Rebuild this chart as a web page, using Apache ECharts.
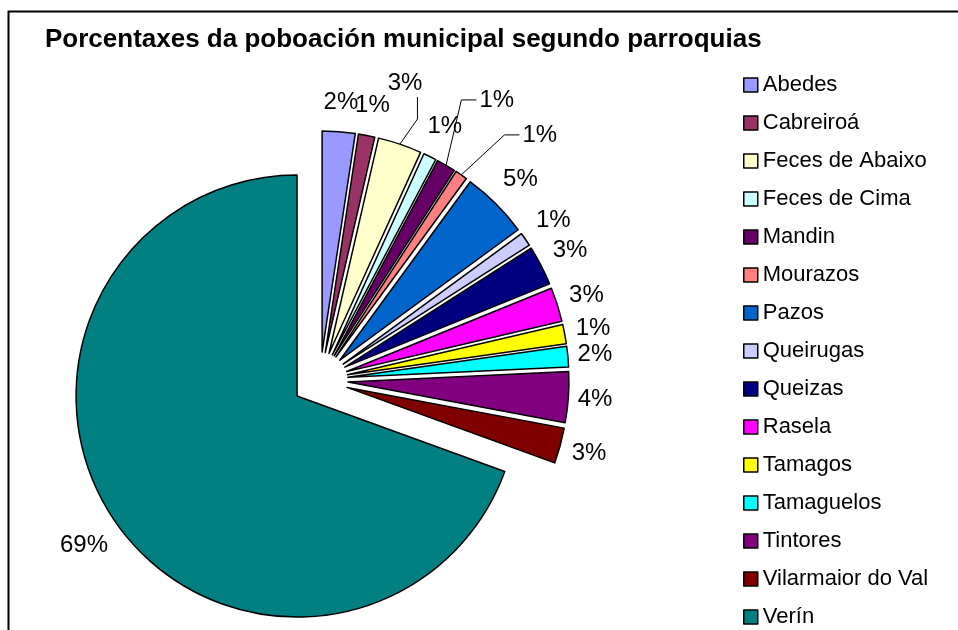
<!DOCTYPE html>
<html>
<head>
<meta charset="utf-8">
<script src="https://cdn.jsdelivr.net/npm/echarts@6/dist/echarts.min.js"></script>
<style>
html, body { margin: 0; padding: 0; background: #fff; }
#chart { width: 958px; height: 630px; }
</style>
</head>
<body>
<div id="chart"></div>
<script>
const parishes = ['Abedes', 'Cabreiroá', 'Feces de Abaixo', 'Feces de Cima', 'Mandin', 'Mourazos', 'Pazos',
	'Queirugas', 'Queizas', 'Rasela', 'Tamagos', 'Tamaguelos', 'Tintores', 'Vilarmaior do Val', 'Verín'];
// share of the municipal population, %
const shares = [2.4, 1.2, 3.2, 0.95, 1.4, 0.9, 4.9, 1.0, 2.9, 2.5, 1.4, 1.5, 3.7, 2.6, 69.45];
const colours = ['#9999ff', '#993366', '#ffffcc', '#ccffff', '#660066', '#ff8080', '#0066cc',
	'#ccccff', '#000080', '#ff00ff', '#ffff00', '#00ffff', '#800080', '#800000', '#008080'];

// labels pushed out with a leader line: [extra distance, extra angle (deg)]
const leaders = { 'Feces de Abaixo': [28, -3], 'Mandin': [48, 2], 'Mourazos': [46, 8] };

const CX = 320, CY = 380, R = 221, EXPLODE = 28;
const FONT = 'Liberation Sans, Arial, sans-serif';

// mid angle of every slice (clockwise from 12 o'clock), used to explode it
const total = shares.reduce((a, b) => a + b, 0);
const mids = [];
let acc = 0;
shares.forEach(v => { mids.push((acc + v / 2) / total * 2 * Math.PI); acc += v; });
const centres = mids.map(a => [CX + EXPLODE * Math.sin(a), CY - EXPLODE * Math.cos(a)]);

// label just outside its slice, like excel's "best fit"
function placeLabel(params) {
	const i = params.dataIndex;
	const lead = leaders[parishes[i]] || [0, 0];
	const a = mids[i] + lead[1] * Math.PI / 180;
	const sx = Math.sin(mids[i]), sy = -Math.cos(mids[i]);
	const cx = centres[i][0], cy = centres[i][1];
	const w = params.labelRect.width, h = params.labelRect.height;
	const d = R + 8 + (w / 2) * Math.abs(Math.sin(a)) + (h / 2 + 8) * Math.abs(Math.cos(a)) + lead[0];
	const lx = cx + d * Math.sin(a), ly = cy - d * Math.cos(a);
	const out = { x: lx, y: ly, align: 'center', verticalAlign: 'middle' };
	if (leaders[parishes[i]]) {
		const p0 = [cx + R * sx, cy + R * sy];
		if (Math.abs(Math.sin(a)) > 0.4) {
			out.labelLinePoints = [p0, [lx - w / 2 - 18, ly], [lx - w / 2 - 3, ly]];
		} else {
			out.labelLinePoints = [p0, [lx + w / 2 - 5, ly + h / 2 + 24], [lx + w / 2 - 5, ly + h / 2 + 2]];
		}
	}
	return out;
}

// one pie per slice, each centred on its own exploded position; only its own slice is painted
const series = parishes.map((owner, k) => ({
	type: 'pie',
	center: centres[k],
	radius: R,
	startAngle: 90,
	clockwise: true,
	silent: true,
	avoidLabelOverlap: false,
	emphasis: { disabled: true },
	label: {
		position: 'outside',
		fontFamily: FONT,
		fontSize: 24,
		color: '#000',
		formatter: p => Math.round(p.value) + '%'
	},
	labelLine: { lineStyle: { color: '#000', width: 1 } },
	labelLayout: placeLabel,
	data: parishes.map((name, i) => ({
		name: name,
		value: shares[i],
		itemStyle: i === k
			? { color: colours[i], borderColor: '#000', borderWidth: 1.5 }
			: { color: 'rgba(0,0,0,0)', borderWidth: 0 },
		label: { show: i === k },
		labelLine: { show: i === k && !!leaders[name] }
	}))
}));

const chart = echarts.init(document.getElementById('chart'));
chart.setOption({
	animation: false,
	title: {
		text: 'Porcentaxes da poboación municipal segundo parroquias',
		left: 40,
		top: 22,
		textStyle: { fontFamily: FONT, fontSize: 26, fontWeight: 'bold', color: '#000' }
	},
	legend: {
		orient: 'vertical',
		left: 738,
		top: 69,
		height: 700,
		itemWidth: 14,
		itemHeight: 14,
		itemGap: 16,
		selectedMode: false,
		icon: 'rect',
		textStyle: { fontFamily: FONT, fontSize: 22, color: '#000' },
		data: parishes.map((name, i) => ({
			name: name,
			itemStyle: { color: colours[i], borderColor: '#000', borderWidth: 1.5 }
		}))
	},
	graphic: [{
		type: 'rect',
		left: 6, top: 9,
		shape: { width: 1000, height: 700 },
		style: { fill: null, stroke: '#000', lineWidth: 2 },
		silent: true
	}],
	series: series
});
</script>
</body>
</html>
